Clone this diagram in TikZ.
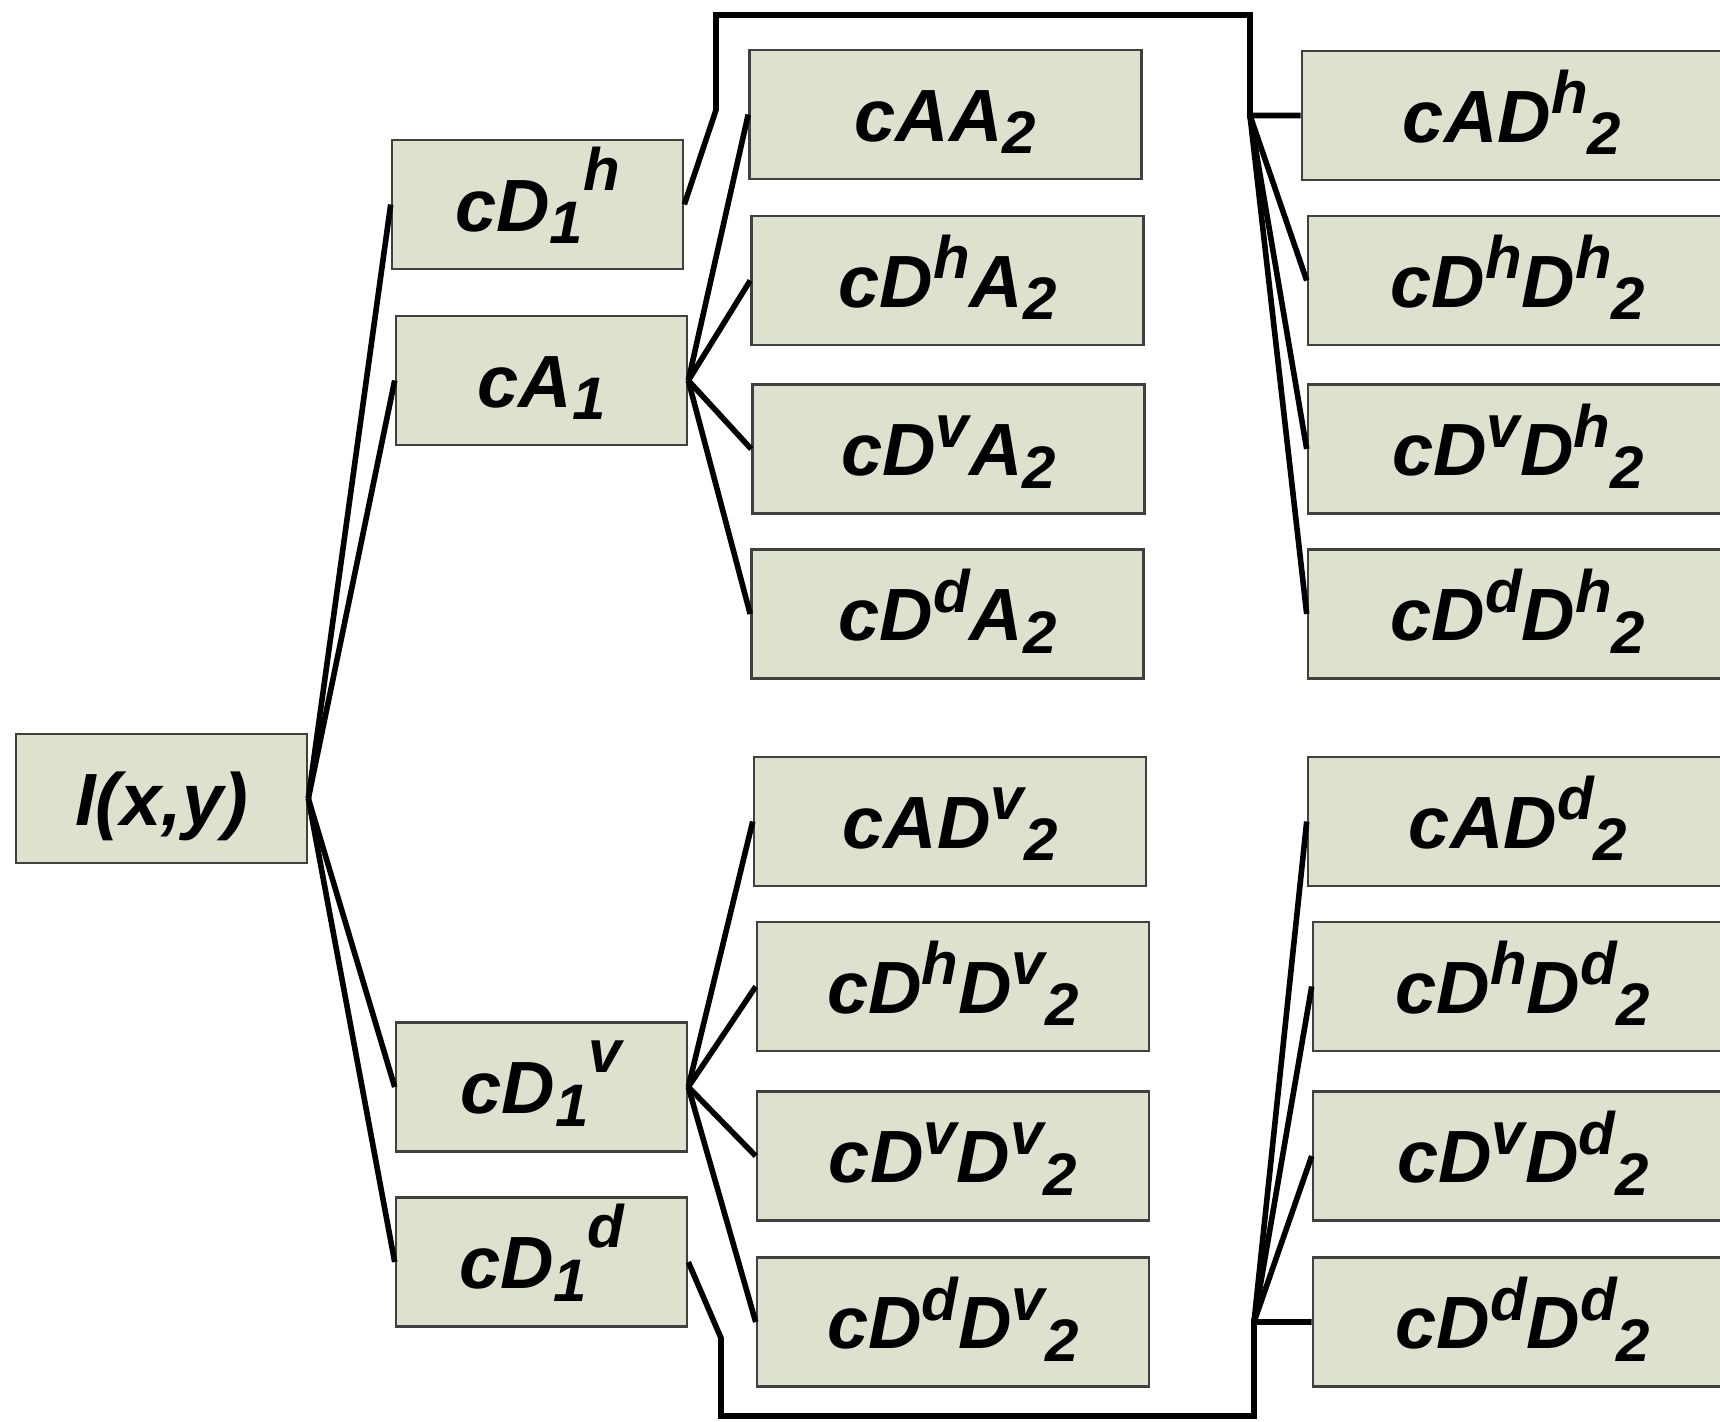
\documentclass[tikz,border=0pt]{standalone}
\usepackage{fontspec}
\setmainfont{Liberation Sans}
\definecolor{boxfill}{RGB}{221,226,206}
\definecolor{boxline}{RGB}{64,64,64}
% staggered sub- and superscripts
\newcommand\lo[1]{\raisebox{-0.17em}{\fontsize{30}{30}\selectfont #1}}
\newcommand\hi[1]{\raisebox{0.38em}{\fontsize{30}{30}\selectfont #1}}
\newcommand\hhi[1]{\raisebox{0.55em}{\fontsize{30}{30}\selectfont #1}}
\begin{document}
\begin{tikzpicture}[x=0.5pt,y=-0.5pt,
  box/.style={draw=boxline, fill=boxfill, line width=1.3pt, inner sep=0pt,
    minimum height=64.5pt, text height=26.6pt, text depth=0pt,
    font=\fontsize{37}{44}\selectfont\bfseries\itshape},
  lvl0/.style={box, minimum width=145.5pt},
  lvl1/.style={box, minimum width=145.5pt},
  lvl2/.style={box, minimum width=196pt},
  lvl3/.style={box, minimum width=210pt},
  link/.style={line width=2.8pt, black, line join=miter}]
\clip (0,0) rectangle (1720,1421);

% root
\node[lvl0] (I) at (161.5,798.5) {I(x,y)};

% first level
\node[lvl1] (cD1h) at (537.5,204.5) {cD\lo{1}\hhi{h}};
\node[lvl1] (cA1)  at (541.5,380.5) {cA\lo{1}};
\node[lvl1] (cD1v) at (541.5,1087)  {cD\lo{1}\hhi{v}};
\node[lvl1] (cD1d) at (541.5,1262)  {cD\lo{1}\hhi{d}};

% second level, from cA1 and cD1v
\node[lvl2] (cAA2)   at (945.5,114.5) {cAA\lo{2}};
\node[lvl2] (cDhA2)  at (947.5,280.5) {cD\hi{h}A\lo{2}};
\node[lvl2] (cDvA2)  at (948.5,449)   {cD\hi{v}A\lo{2}};
\node[lvl2] (cDdA2)  at (947.5,614)   {cD\hi{d}A\lo{2}};
\node[lvl2] (cADv2)  at (950,821.5)   {cAD\hi{v}\lo{2}};
\node[lvl2] (cDhDv2) at (953,986.5)   {cD\hi{h}D\hi{v}\lo{2}};
\node[lvl2] (cDvDv2) at (953,1156)    {cD\hi{v}D\hi{v}\lo{2}};
\node[lvl2] (cDdDv2) at (953,1322)    {cD\hi{d}D\hi{v}\lo{2}};

% second level, from cD1h and cD1d
\node[lvl3] (cADh2)  at (1512,115.5) {cAD\hi{h}\lo{2}};
\node[lvl3] (cDhDh2) at (1518,280.5) {cD\hi{h}D\hi{h}\lo{2}};
\node[lvl3] (cDvDh2) at (1518,449)   {cD\hi{v}D\hi{h}\lo{2}};
\node[lvl3] (cDdDh2) at (1518,614)   {cD\hi{d}D\hi{h}\lo{2}};
\node[lvl3] (cADd2)  at (1518,821.5) {cAD\hi{d}\lo{2}};
\node[lvl3] (cDhDd2) at (1523,986.5) {cD\hi{h}D\hi{d}\lo{2}};
\node[lvl3] (cDvDd2) at (1523,1156)  {cD\hi{v}D\hi{d}\lo{2}};
\node[lvl3] (cDdDd2) at (1523,1322)  {cD\hi{d}D\hi{d}\lo{2}};

% root to first level
\foreach \n in {cD1h,cA1,cD1v,cD1d}
  \draw[link] (I.east) -- (\n.west);

% cA1 and cD1v fans
\foreach \n in {cAA2,cDhA2,cDvA2,cDdA2}
  \draw[link] (cA1.east) -- (\n.west);
\foreach \n in {cADv2,cDhDv2,cDvDv2,cDdDv2}
  \draw[link] (cD1v.east) -- (\n.west);

% cD1h routed over the top
\coordinate (ta) at (716,110);
\coordinate (tb) at (716,15);
\coordinate (tc) at (1250,15);
\coordinate (td) at (1250,115.5);
\draw[link] (cD1h.east) -- (ta) -- (tb) -- (tc) -- (td) -- (cADh2.west);
\foreach \n in {cDhDh2,cDvDh2,cDdDh2}
  \draw[link] (td) -- (\n.west);

% cD1d routed under the bottom
\coordinate (ba) at (721,1338);
\coordinate (bb) at (721,1416);
\coordinate (bc) at (1254,1416);
\coordinate (bd) at (1254,1322);
\draw[link] (cD1d.east) -- (ba) -- (bb) -- (bc) -- (bd) -- (cDdDd2.west);
\foreach \n in {cADd2,cDhDd2,cDvDd2}
  \draw[link] (bd) -- (\n.west);
\end{tikzpicture}
\end{document}
